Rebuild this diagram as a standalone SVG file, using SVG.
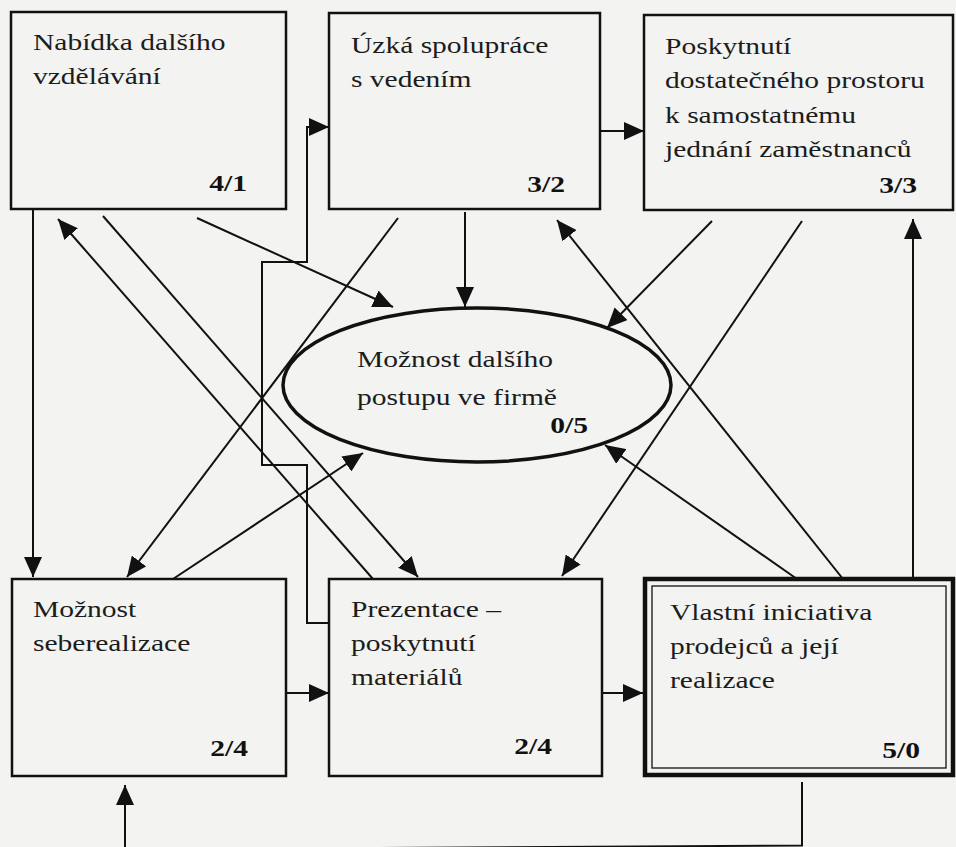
<svg xmlns="http://www.w3.org/2000/svg" width="956" height="847" viewBox="0 0 956 847">
<defs>
<marker id="ah" markerUnits="userSpaceOnUse" viewBox="0 0 20 18" refX="20" refY="9" markerWidth="20" markerHeight="18" orient="auto">
<path d="M0,0 L20,9 L0,18 z" fill="#111"/>
</marker>
<style>
.t{font-family:"Liberation Serif","Times New Roman",serif;font-size:24px;fill:#1c1c1c}
.n{font-weight:bold;text-anchor:end;fill:#111}
.box{fill:none;stroke:#111;stroke-width:2.5}
.c{fill:none;stroke:#111;stroke-width:2}
.c path,.c line,.c polyline{marker-end:url(#ah)}
</style>
</defs>
<rect x="0" y="0" width="956" height="847" fill="#f3f3f1"/>

<g id="connectors" class="c">
<line x1="33" y1="209" x2="33" y2="577"/>
<line x1="373" y1="579" x2="58" y2="219"/>
<line x1="103" y1="216" x2="418" y2="577"/>
<line x1="197" y1="218" x2="393" y2="307"/>
<line x1="465" y1="212" x2="465" y2="307"/>
<line x1="398" y1="218" x2="127" y2="577"/>
<line x1="600" y1="131" x2="644" y2="131"/>
<polyline points="329,623 307,623 307,465 262,465 262,262 307,262 307,127 329,127"/>
<line x1="712" y1="221" x2="607" y2="328"/>
<line x1="802" y1="221" x2="562" y2="576"/>
<line x1="173" y1="579" x2="363" y2="453"/>
<line x1="286" y1="693" x2="329" y2="693"/>
<line x1="602" y1="693" x2="643" y2="693"/>
<line x1="797" y1="579" x2="605" y2="445"/>
<line x1="843" y1="579" x2="557" y2="220"/>
<line x1="913" y1="577" x2="913" y2="219"/>
<polyline points="802,782 802,845.5 125,849.5 125,785"/>
</g>

<g id="n1">
<rect class="box" x="11" y="12" width="275" height="197"/>
<text class="t" transform="translate(33,50) scale(1.23,1)"><tspan x="0">Nabídka dalšího</tspan><tspan x="0" dy="34">vzdělávání</tspan></text>
<text class="t n" transform="translate(247,191) scale(1.23,1)">4/1</text>
</g>

<g id="n2">
<rect class="box" x="329" y="13" width="271" height="196"/>
<text class="t" transform="translate(351,53) scale(1.23,1)"><tspan x="0">Úzká spolupráce</tspan><tspan x="0" dy="34">s vedením</tspan></text>
<text class="t n" transform="translate(565,192) scale(1.23,1)">3/2</text>
</g>

<g id="n3">
<rect class="box" x="644" y="15" width="309" height="195"/>
<text class="t" transform="translate(665,54) scale(1.23,1)"><tspan x="0">Poskytnutí</tspan><tspan x="0" dy="34.3">dostatečného prostoru</tspan><tspan x="0" dy="34.3">k samostatnému</tspan><tspan x="0" dy="34.3">jednání zaměstnanců</tspan></text>
<text class="t n" transform="translate(917,193) scale(1.23,1)">3/3</text>
</g>

<g id="n0">
<ellipse cx="477" cy="385" rx="194" ry="77" fill="none" stroke="#111" stroke-width="3.5"/>
<text class="t" transform="translate(357,367) scale(1.23,1)"><tspan x="0">Možnost dalšího</tspan><tspan x="0" dy="38">postupu ve firmě</tspan></text>
<text class="t n" transform="translate(588,433) scale(1.23,1)">0/5</text>
</g>

<g id="n4">
<rect class="box" x="12" y="579" width="274" height="197"/>
<text class="t" transform="translate(33,617) scale(1.23,1)"><tspan x="0">Možnost</tspan><tspan x="0" dy="34">seberealizace</tspan></text>
<text class="t n" transform="translate(248,756) scale(1.23,1)">2/4</text>
</g>

<g id="n5">
<rect class="box" x="329" y="579" width="273" height="197"/>
<text class="t" transform="translate(351,617) scale(1.23,1)"><tspan x="0">Prezentace –</tspan><tspan x="0" dy="34">poskytnutí</tspan><tspan x="0" dy="34">materiálů</tspan></text>
<text class="t n" transform="translate(552,754) scale(1.23,1)">2/4</text>
</g>

<g id="n6">
<rect x="645" y="579" width="308" height="196" fill="none" stroke="#111" stroke-width="4.5"/>
<rect x="652" y="586" width="294" height="182" fill="none" stroke="#111" stroke-width="1.3"/>
<text class="t" transform="translate(670,620) scale(1.23,1)"><tspan x="0">Vlastní iniciativa</tspan><tspan x="0" dy="34">prodejců a její</tspan><tspan x="0" dy="34">realizace</tspan></text>
<text class="t n" transform="translate(920,758) scale(1.23,1)">5/0</text>
</g>
</svg>
